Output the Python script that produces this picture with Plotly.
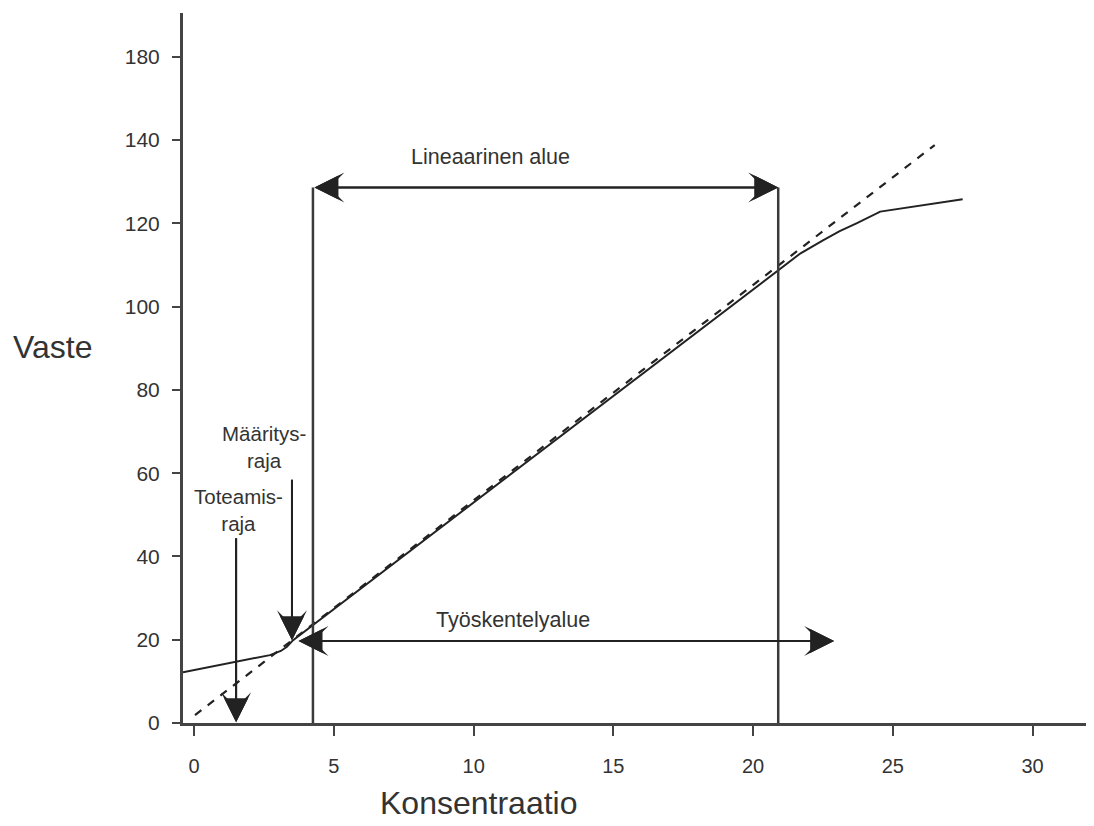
import plotly.graph_objects as go

# --- data ---
curve_x = [-0.4, 1.46, 2.71, 3.1, 3.32, 3.54, 20.9, 21.7, 22.5, 23.1, 23.7, 24.1, 24.55, 27.5]
curve_y = [12.2, 14.6, 16.3, 17.3, 18.3, 19.9, 108.8, 112.8, 115.9, 118.1, 120.0, 121.4, 122.8, 125.8]
fit_x = [0.03, 26.5]
fit_y = [1.9, 138.8]
linear_range = [4.25, 20.9]
linear_top = 128.6
working_range = [3.68, 22.9]
working_level = 19.7
lod_x = 1.5
lod_arrow_y = [44.7, 0.2]
loq_x = 3.5
loq_arrow_y = [58.8, 19.9]
x_ticks = [0, 5, 10, 15, 20, 25, 30]
y_ticks = [0, 20, 40, 60, 80, 100, 120, 140, 160]
y_ticktext = ["0", "20", "40", "60", "80", "100", "120", "140", "180"]

FONT = "Liberation Sans, Arial, sans-serif"
TXT = "#333333"
LINE = "#222222"

fig = go.Figure()

# dashed ideal line
fig.add_trace(go.Scatter(x=fit_x, y=fit_y, mode="lines",
                         line=dict(color=LINE, width=2.2, dash="8px,8px"),
                         hoverinfo="skip", showlegend=False))
# response curve
fig.add_trace(go.Scatter(x=curve_x, y=curve_y, mode="lines",
                         line=dict(color=LINE, width=2),
                         hoverinfo="skip", showlegend=False))
# vertical boundary lines of the linear range
for xv in linear_range:
    fig.add_trace(go.Scatter(x=[xv, xv], y=[0, linear_top], mode="lines",
                             line=dict(color="#3a3a3a", width=2.5),
                             hoverinfo="skip", showlegend=False))

ann = []
# two overlaid head styles give a filled dart with a shallow notch
head_styles = [dict(arrowhead=3, arrowsize=2.5, startarrowhead=3, startarrowsize=2.5),
               dict(arrowhead=2, arrowsize=2.4, startarrowhead=2, startarrowsize=2.4)]
for hs in head_styles:
    common = dict(showarrow=True, text="", xref="x", yref="y", axref="x", ayref="y",
                  arrowwidth=2, arrowcolor=LINE, **hs)
    ann.append(dict(x=linear_range[1], y=linear_top, ax=linear_range[0], ay=linear_top,
                    arrowside="end+start", **common))
    ann.append(dict(x=working_range[1], y=working_level, ax=working_range[0], ay=working_level,
                    arrowside="end+start", **common))
    ann.append(dict(x=lod_x, y=lod_arrow_y[1], ax=lod_x, ay=lod_arrow_y[0], **common))
    ann.append(dict(x=loq_x, y=loq_arrow_y[1], ax=loq_x, ay=loq_arrow_y[0], **common))

lab = dict(showarrow=False, xref="x", yref="y", xanchor="center", yanchor="middle")
big = dict(family=FONT, size=21.5, color=TXT)
small = dict(family=FONT, size=20.5, color=TXT)
ann.append(dict(x=10.6, y=135.9, text="Lineaarinen alue", font=big, **lab))
ann.append(dict(x=11.4, y=24.7, text="Työskentelyalue", font=big, **lab))
ann.append(dict(x=2.5, y=66.4, text="Määritys-<br>raja", align="center", font=small, **lab))
ann.append(dict(x=1.6, y=51.1, text="Toteamis-<br>raja", align="center", font=small, **lab))

# axis titles
ann.append(dict(x=-0.143, y=0.53, xref="paper", yref="paper", text="Vaste", showarrow=False,
                xanchor="center", yanchor="middle",
                font=dict(family=FONT, size=32, color=TXT)))
ann.append(dict(x=0.324, y=-0.113, xref="paper", yref="paper", text="Konsentraatio",
                xanchor="center", yanchor="middle",
                showarrow=False, font=dict(family=FONT, size=32, color=TXT)))

fig.update_layout(
    width=1086, height=818,
    margin=dict(l=175, r=0, t=5, b=103),
    paper_bgcolor="white", plot_bgcolor="white",
    annotations=ann,
    showlegend=False,
    xaxis=dict(range=[-0.4, 32.2], showgrid=False, zeroline=False,
               showline=True, linecolor="#444444", linewidth=3,
               tickmode="array", tickvals=x_ticks, ticks="outside", ticklen=10,
               tickwidth=2, tickcolor="#444444", ticklabelstandoff=13,
               tickfont=dict(family=FONT, size=20, color=TXT)),
    yaxis=dict(range=[0, 170.5], showgrid=False, zeroline=False,
               showline=True, linecolor="#444444", linewidth=3,
               tickmode="array", tickvals=y_ticks, ticktext=y_ticktext,
               ticks="outside", ticklen=8, tickwidth=2, tickcolor="#444444",
               ticklabelstandoff=8,
               tickfont=dict(family=FONT, size=21, color=TXT)),
)

fig.write_html("out.html")
